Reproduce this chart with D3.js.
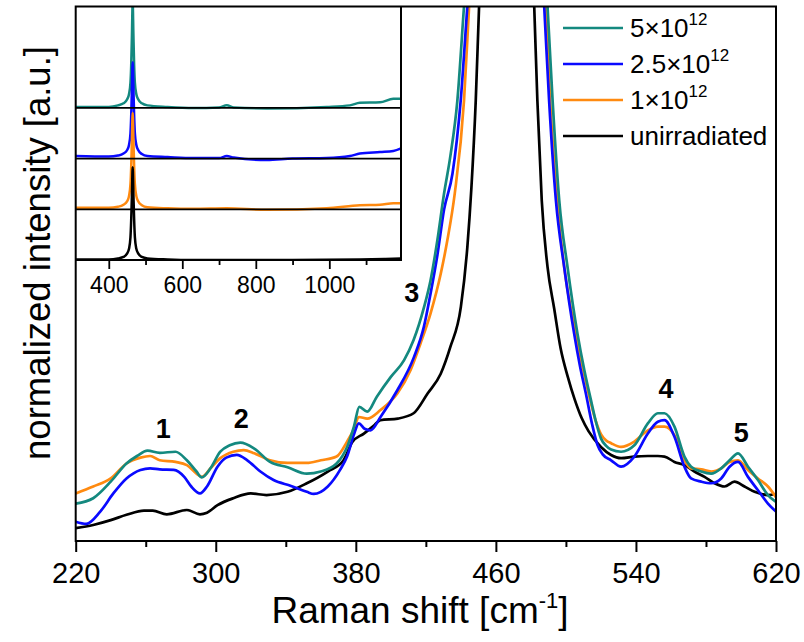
<!DOCTYPE html>
<html><head><meta charset="utf-8">
<script src="https://cdn.jsdelivr.net/npm/d3@7"></script>
<style>
body{margin:0;background:#fff}
text{font-family:"Liberation Sans",Arial,Helvetica,sans-serif;fill:#000}
</style>
</head><body>
<svg id="chart" width="804" height="642"></svg>
<script>
// ---------------- data ----------------
const seriesLabels = ["5×10", "2.5×10", "1×10", "unirradiated"];
const seriesSup = ["12", "12", "12", ""];
const seriesColors = ["#14897f", "#0a0aff", "#ff8a10", "#000000"];

const xTicksMain = [220, 300, 380, 460, 540, 620];
const xMinorMain = [260, 340, 420, 500, 580];
const xTicksInset = [400, 600, 800, 1000];
const xMinorInset = [500, 700, 900, 1100];

const peakLabels = ["1", "2", "3", "4", "5"];
const peakLabelPos = [[270, 19.3], [314.6, 21.1], [411.9, 44.7], [557.2, 26.7], [600.1, 18.5]];

// main spectra: [Raman shift cm^-1, normalized intensity a.u.]
const dose5 = [[220,7.0],[230,8.0],[240,11.1],[249,14.5],[255,15.9],[261,16.9],[268,16.5],[277,16.7],[283.5,15.1],[289,13.0],[292,11.9],[297,13.6],[302.6,16.7],[308,17.9],[314,18.4],[322,17.3],[331,14.8],[341,13.8],[352,12.6],[360,13.0],[369,14.5],[375,17.6],[379,21.5],[382,25.1],[386.5,24.2],[392,27.0],[400,30.7],[407.5,33.8],[413,37.6],[419,43.8],[422.7,48.8],[426.6,56.3],[430.4,65.0],[434,72],[438,82.4],[441.8,100],[465,180],[489.5,100],[492.4,82.4],[496.2,63.7],[500.9,51.3],[506.6,38.8],[510.5,32.0],[514.2,26.5],[517,22.5],[520,19.2],[523,17.8],[525.8,17.1],[531.5,16.7],[539.1,17.9],[546.8,22.0],[552.5,23.9],[556.3,23.9],[562,21.4],[567.7,15.8],[571.5,13.9],[577.3,13.0],[583,12.6],[588.7,13.6],[593.5,15.1],[598.3,16.4],[604,13.9],[609.7,11.4],[615.4,8.6],[620,7.3]];
const dose25 = [[220,3.6],[226,3.2],[234,5.5],[241.5,8.9],[249,11.7],[257,13.3],[262.5,13.6],[268,13.4],[276,13.3],[282,12.0],[286,10.2],[291,8.9],[295,10.2],[301,13.9],[306,15.6],[312,16.1],[318,15.1],[325.5,13.0],[333,11.4],[343,10.3],[352,9.2],[356,8.8],[364,10.2],[371,13.3],[375,15.8],[379,20.0],[381.7,22.0],[385,21.0],[388.4,20.7],[394.1,23.2],[403.7,28.2],[413.2,34.4],[418.9,40.1],[422.7,46.3],[426.6,53.5],[430.4,62],[435.2,68.7],[439.9,82.4],[443.7,100],[465,180],[487.6,100],[490.4,82.4],[494.3,63.7],[499,51.3],[504.7,38.8],[508,32.8],[511.4,27.6],[515,21.8],[518,18.0],[521,16.2],[525.8,15.1],[531.5,13.9],[539.1,15.8],[546.8,20.1],[552.5,22.3],[556.3,22.6],[562,19.5],[567.7,13.9],[571.5,11.7],[577.3,11.1],[583,10.8],[588.7,11.7],[593.5,13.9],[598.3,14.8],[604,12.0],[609.7,9.5],[615.4,7.0],[620,5.5]];
const dose1 = [[220,8.9],[230,10.2],[240,11.7],[249,14.5],[257,15.6],[262.5,15.9],[268,15.1],[277,14.8],[283.5,14.2],[289,12.6],[292,12.0],[297,13.6],[302.6,15.5],[310,16.7],[316,17.0],[322,16.4],[331,15.1],[341,14.6],[352,14.6],[360,15.1],[369,15.8],[375,18.6],[379,21.0],[381.7,23.2],[386.5,22.9],[394.1,24.5],[403.7,27.6],[411.3,32.0],[417,37.0],[422.7,42.6],[428.5,50.0],[432.3,56.3],[436.5,65],[441.8,82.4],[444.7,100],[465,180],[488.5,100],[491,82.4],[495,63.7],[499,51.3],[505.7,38.8],[509.5,32.6],[513.4,27.0],[517,22.5],[520,20.0],[523,18.8],[525.8,18.3],[531.5,17.6],[539.1,18.6],[546.8,20.7],[552.5,21.4],[556.3,21.4],[562,19.8],[567.7,15.1],[571.5,13.6],[577.3,13.4],[583,13.0],[588.7,13.6],[593.5,14.8],[598.3,15.1],[604,13.3],[609.7,11.7],[615.4,10.2],[620,8.2]];
const unirr = [[220,2.4],[230,3.0],[240,3.9],[249,4.9],[259,5.7],[264,5.7],[272,5.0],[283.5,5.8],[291,5.0],[295,5.3],[301,6.7],[310,8.0],[320,8.9],[329,8.6],[341,9.2],[352,10.8],[364,13.0],[373,15.1],[378,18.5],[384.6,20.1],[390,21.5],[394,22.6],[404,22.9],[413,23.9],[421,27.6],[428.5,31.3],[434,36.3],[440,43.8],[443.7,55],[446,66],[448.5,82.4],[450.4,100],[465,180],[481.9,100],[483.7,82.4],[486.2,63.7],[489.5,51.3],[493.3,43.5],[497,36.0],[501,30.8],[505,26.5],[509,23.0],[513,20.5],[520,17.6],[525.8,16.1],[531.5,15.5],[539.1,15.8],[546.8,15.9],[552.5,15.9],[556.3,15.8],[562,14.8],[567.7,14.2],[573.4,13.0],[579.2,12.0],[584.9,10.8],[590.6,10.2],[596.3,11.1],[602,10.2],[607.8,9.2],[615.4,8.6],[620,8.8]];

// inset spectra (full range), intensity relative to own baseline
const inset5 = [[310,0.02],[400,0.02],[425,0.05],[440,0.09],[450,0.17],[455,0.27],[459,0.5],[461,0.85],[463,1.45],[465,2.1],[467,1.45],[469,0.85],[471,0.5],[475,0.27],[480,0.17],[490,0.09],[505,0.05],[560,0.02],[630,0.0],[700,0.01],[721,0.05],[740,0.01],[830,-0.01],[993,0.02],[1056,0.05],[1083,0.1],[1138,0.11],[1174,0.18],[1195,0.18]];
const inset25 = [[310,0.05],[400,0.04],[425,0.06],[440,0.1],[450,0.17],[455,0.27],[459,0.5],[461,0.85],[463,1.4],[465,1.9],[467,1.4],[469,0.85],[471,0.5],[475,0.27],[480,0.17],[490,0.09],[505,0.05],[560,0.03],[630,0.01],[700,0.01],[721,0.05],[740,0.02],[830,-0.03],[900,0.0],[993,0.01],[1056,0.05],[1083,0.1],[1138,0.13],[1174,0.15],[1195,0.2]];
const inset1 = [[310,0.03],[400,0.03],[425,0.05],[440,0.09],[450,0.16],[455,0.26],[459,0.5],[461,0.85],[463,1.4],[465,1.9],[467,1.4],[469,0.85],[471,0.5],[475,0.26],[480,0.16],[490,0.08],[505,0.04],[560,0.02],[630,0.01],[721,0.02],[830,-0.01],[993,0.02],[1083,0.08],[1138,0.09],[1174,0.12],[1195,0.12]];
const inset0 = [[310,0.01],[400,0.01],[425,0.03],[440,0.06],[450,0.13],[455,0.22],[459,0.45],[461,0.8],[463,1.3],[465,1.83],[467,1.3],[469,0.8],[471,0.45],[475,0.22],[480,0.13],[490,0.06],[505,0.03],[560,0.01],[630,0.0],[900,0.0],[1083,0.01],[1150,0.02],[1195,0.03]];

const mainSeries = [dose5, dose25, dose1, unirr];
const insetSeries = [inset5, inset25, inset1, inset0];

// ---------------- layout ----------------
const svg = d3.select("#chart");
const L = 75.7, R = 776, T = 6.5, B = 541;
const x = d3.scaleLinear().domain([220, 620]).range([L, R]);
const y = d3.scaleLinear().domain([0, 100]).range([B, T]);

const defs = svg.append("defs");
defs.append("clipPath").attr("id", "clipMain").append("rect")
  .attr("x", L).attr("y", T).attr("width", R - L).attr("height", B - T);

const line = d3.line().x(d => x(d[0])).y(d => y(d[1])).curve(d3.curveMonotoneX);

// main curves (black first, teal on top)
const gMain = svg.append("g").attr("clip-path", "url(#clipMain)");
for (let i = mainSeries.length - 1; i >= 0; i--) {
  gMain.append("path").datum(mainSeries[i])
    .attr("d", line).attr("fill", "none")
    .attr("stroke", seriesColors[i]).attr("stroke-width", 2.7)
    .attr("stroke-linejoin", "round");
}

// peak labels
svg.append("g").selectAll("text").data(peakLabels).join("text")
  .attr("x", (d, i) => x(peakLabelPos[i][0]))
  .attr("y", (d, i) => y(peakLabelPos[i][1]))
  .attr("text-anchor", "middle")
  .attr("font-size", 27).attr("font-weight", "bold")
  .text(d => d);

// ---------------- inset ----------------
const IL = L, IR = 401, IT = T, IB = 260;
const xi = d3.scaleLinear().domain([310, 1195]).range([IL, IR]);
const yi = d3.scaleLinear().domain([0, 5]).range([IB, IT]);
defs.append("clipPath").attr("id", "clipInset").append("rect")
  .attr("x", IL).attr("y", IT).attr("width", IR - IL).attr("height", IB - IT);

svg.append("rect").attr("x", IL).attr("y", IT).attr("width", IR - IL).attr("height", IB - IT).attr("fill", "#fff");
const gIn = svg.append("g").attr("clip-path", "url(#clipInset)");
const nIn = insetSeries.length;
insetSeries.forEach((s, i) => {
  const off = nIn - 1 - i;
  const ln = d3.line().x(d => xi(d[0])).y(d => yi(d[1] + off)).curve(d3.curveMonotoneX);
  gIn.append("path").datum(s).attr("d", ln).attr("fill", "none")
    .attr("stroke", seriesColors[i]).attr("stroke-width", 2.5);
});
// panel baselines
svg.append("g").selectAll("line").data(d3.range(1, nIn)).join("line")
  .attr("x1", IL).attr("x2", IR).attr("y1", d => yi(d)).attr("y2", d => yi(d))
  .attr("stroke", "#000").attr("stroke-width", 1.8);
// inset frame (right + bottom)
svg.append("path").attr("d", `M${IR},${IT}V${IB}H${IL}`).attr("fill", "none").attr("stroke", "#000").attr("stroke-width", 2);

const axIn = svg.append("g").attr("transform", `translate(0,${IB})`);
axIn.call(d3.axisBottom(xi).tickValues(xTicksInset).tickSize(9).tickFormat(d3.format("d")));
axIn.append("g").call(d3.axisBottom(xi).tickValues(xMinorInset).tickSize(5).tickFormat(""));
axIn.selectAll(".domain").remove();
axIn.selectAll("line").attr("stroke", "#000").attr("stroke-width", 1.8);
axIn.selectAll("text").attr("font-size", 23).attr("dy", "0.95em").attr("y", 11)
  .style("font-family", '"Liberation Sans",Arial,sans-serif');

// ---------------- main axes ----------------
svg.append("rect").attr("x", L).attr("y", T).attr("width", R - L).attr("height", B - T)
  .attr("fill", "none").attr("stroke", "#000").attr("stroke-width", 2);

const axB = svg.append("g").attr("transform", `translate(0,${B})`);
axB.call(d3.axisBottom(x).tickValues(xTicksMain).tickSize(11).tickFormat(d3.format("d")));
axB.append("g").call(d3.axisBottom(x).tickValues(xMinorMain).tickSize(6).tickFormat(""));
axB.selectAll(".domain").remove();
axB.selectAll("line").attr("stroke", "#000").attr("stroke-width", 2);
axB.selectAll("text").attr("font-size", 29).attr("y", 16).attr("dy", "0.9em")
  .style("font-family", '"Liberation Sans",Arial,sans-serif');

// axis titles
const xt = svg.append("text").attr("x", 420).attr("y", 623)
  .attr("text-anchor", "middle").attr("font-size", 37);
xt.append("tspan").text("Raman shift [cm");
xt.append("tspan").attr("font-size", 22).attr("dy", -15).text("-1");
xt.append("tspan").attr("dy", 15).text("]");

svg.append("text").attr("transform", "translate(50,253) rotate(-90)")
  .attr("text-anchor", "middle").attr("font-size", 36.5)
  .text("normalized intensity [a.u.]");

// ---------------- legend ----------------
const lg = svg.append("g");
seriesLabels.forEach((lab, i) => {
  const yy = 28 + i * 36;
  lg.append("line").attr("x1", 563).attr("x2", 623).attr("y1", yy).attr("y2", yy)
    .attr("stroke", seriesColors[i]).attr("stroke-width", 2.6);
  const t = lg.append("text").attr("x", 630).attr("y", yy + 9).attr("font-size", 26);
  t.append("tspan").text(lab);
  if (seriesSup[i]) t.append("tspan").attr("font-size", 17).attr("dy", -12).text(seriesSup[i]);
});
</script>
</body></html>
